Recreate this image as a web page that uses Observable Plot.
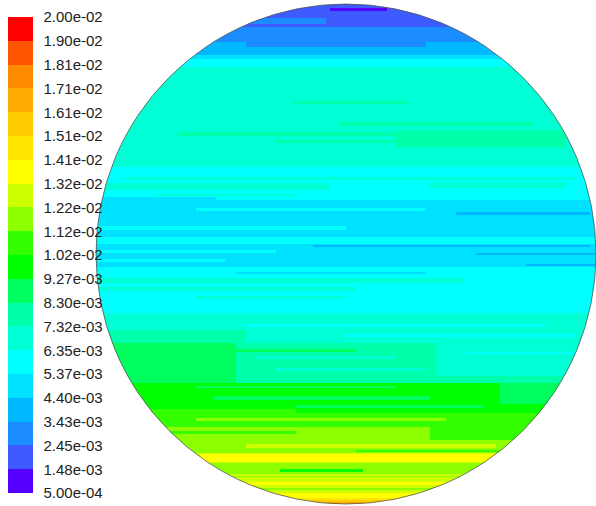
<!DOCTYPE html>
<html>
<head>
<meta charset="utf-8">
<script src="https://cdn.jsdelivr.net/npm/d3@7"></script>
<script src="https://cdn.jsdelivr.net/npm/@observablehq/plot@0.6"></script>
<style>
  html, body { margin: 0; padding: 0; background: #fff; }
  #wrap { position: relative; width: 596px; height: 506px; overflow: hidden; }
  #disc { position: absolute; left: 0; top: 0; width: 596px; height: 506px; }
  #bar { position: absolute; left: 0; top: 0; width: 120px; height: 506px; }
</style>
</head>
<body>
<div id="wrap"><div id="disc"></div><div id="bar"></div></div>
<script>
// ---- colorbar levels (bottom to top) ----
const levelLabels = ["5.00e-04","1.48e-03","2.45e-03","3.43e-03","4.40e-03","5.37e-03","6.35e-03",
  "7.32e-03","8.30e-03","9.27e-03","1.02e-02","1.12e-02","1.22e-02","1.32e-02","1.41e-02",
  "1.51e-02","1.61e-02","1.71e-02","1.81e-02","1.90e-02","2.00e-02"];
const bandColors = ["#5500ff","#3d5bff","#1a8cff","#00b8ff","#00e0ff","#00ffff","#00ffd4",
  "#00ffaa","#00ff5e","#00ff00","#33ff00","#8cff00","#ccff00","#ffff00","#ffe600",
  "#ffcc00","#ffaa00","#ff8c00","#ff5500","#ff0000"];

// ---- disc domain (diameter units, 0 = top / left) ----
const discSpan = [0, 500];

// ---- horizontal base bands of the contour (top, bottom, band index) ----
const rowTop    = [0, 23, 38, 51, 55, 60, 163, 196, 233, 240, 263, 309, 339, 379, 409, 423, 449, 459, 473, 489, 494];
const rowBottom = [23, 38, 51, 55, 60, 163, 196, 233, 240, 263, 309, 339, 379, 409, 423, 449, 459, 473, 489, 494, 500];
const rowBand   = [1, 2, 3, 4, 5, 6, 5, 4, 5, 4, 5, 6, 7, 9, 10, 11, 12, 11, 12, 13, 14];

// ---- streaks / patches: [x0, x1, y0, y1, band] ----
const topStreaks = [
  [234, 291, 4, 7, 0], [0, 230, 14, 20, 2], [0, 120, 30, 38, 3], [400, 500, 28, 38, 3],
  [150, 330, 38, 43, 2], [60, 430, 60, 63, 5]
];
const midStreaks = [
  [197, 311, 97, 100, 7], [244, 437, 118, 122, 7], [81, 300, 128, 132, 7], [300, 470, 126, 143, 7],
  [180, 320, 136, 139, 7], [30, 480, 173, 176, 6], [0, 234, 179, 186, 6], [334, 470, 178, 184, 6],
  [60, 200, 190, 192, 6], [0, 120, 193, 196, 4], [100, 330, 204, 207, 5], [0, 250, 222, 226, 5],
  [360, 494, 208, 211, 3], [217, 494, 241, 243, 3], [380, 500, 249, 251, 3], [430, 500, 260, 262, 3],
  [0, 180, 246, 249, 5], [0, 130, 255, 258, 5], [0, 367, 274, 279, 6], [0, 260, 283, 287, 6],
  [100, 250, 292, 295, 6], [140, 330, 268, 270, 4], [150, 450, 320, 323, 5], [250, 480, 330, 333, 5]
];
const lowStreaks = [
  [0, 150, 326, 339, 7], [0, 140, 339, 379, 8], [340, 500, 339, 372, 6], [160, 300, 352, 355, 6],
  [180, 330, 364, 367, 6], [140, 260, 345, 348, 8], [370, 480, 348, 350, 5], [404, 500, 379, 400, 8],
  [117, 334, 392, 396, 8], [200, 387, 401, 404, 8], [100, 300, 382, 384, 8], [0, 200, 405, 409, 10],
  [100, 350, 414, 417, 11], [334, 500, 423, 436, 10], [0, 200, 427, 430, 10], [150, 400, 440, 444, 12],
  [260, 420, 446, 448, 10], [104, 404, 450, 458, 13], [184, 267, 465, 468, 9], [50, 450, 470, 472, 12],
  [150, 350, 478, 481, 13], [100, 400, 484, 486, 11], [215, 285, 496, 500, 15], [232, 268, 498, 500, 16]
];

const baseRows = rowBand.map((b, i) => ({x1: discSpan[0], x2: discSpan[1], y1: rowTop[i], y2: rowBottom[i], band: b}));
const streakRows = [...topStreaks, ...midStreaks, ...lowStreaks]
  .map(([x0, x1, y0, y1, b]) => ({x1: x0, x2: x1, y1: y0, y2: y1, band: b}));

const color = {type: "ordinal", domain: d3.range(bandColors.length), range: bandColors};
const rectOpts = {x1: "x1", x2: "x2", y1: "y1", y2: "y2", fill: "band", shapeRendering: "crispEdges"};

const disc = Plot.plot({
  width: 596, height: 506,
  marginLeft: 96, marginRight: 0, marginTop: 4, marginBottom: 2,
  style: {background: "transparent"},
  x: {domain: discSpan, axis: null},
  y: {domain: discSpan, reverse: true, axis: null},
  color,
  marks: [
    Plot.rect(baseRows, rectOpts),
    Plot.rect(streakRows, rectOpts)
  ]
});

// clip to the circular cross-section and draw its outline
{
  const sx = disc.scale("x"), sy = disc.scale("y");
  const mid = d3.mean(discSpan);
  const cx = sx.apply(mid), cy = sy.apply(mid), r = sx.apply(discSpan[1]) - cx;
  const svg = d3.select(disc);
  svg.insert("defs", ":first-child").append("clipPath").attr("id", "disc-clip")
    .append("circle").attr("cx", cx).attr("cy", cy).attr("r", r);
  svg.selectAll('g[aria-label="rect"]').attr("clip-path", "url(#disc-clip)");
  svg.append("circle").attr("cx", cx).attr("cy", cy).attr("r", r)
    .attr("fill", "none").attr("stroke", "#555").attr("stroke-width", 0.8);
}
document.getElementById("disc").appendChild(disc);

const bar = Plot.plot({
  width: 120, height: 506,
  marginLeft: 8, marginRight: 87, marginTop: 17, marginBottom: 13,
  style: {background: "transparent", fontFamily: "'Liberation Sans', Arial, sans-serif", fontSize: "15px", overflow: "visible"},
  x: {domain: [0, 1], axis: null},
  y: {domain: [0, bandColors.length]},
  color,
  marks: [
    Plot.rect(d3.range(bandColors.length), {x1: 0, x2: 1, y1: d => d, y2: d => d + 1, fill: d => d, shapeRendering: "crispEdges"}),
    Plot.axisY(d3.range(levelLabels.length), {anchor: "right", tickSize: 0, tickPadding: 10,
      tickFormat: i => levelLabels[i], fill: "#222", fontSize: 15})
  ]
});
document.getElementById("bar").appendChild(bar);
</script>
</body>
</html>
